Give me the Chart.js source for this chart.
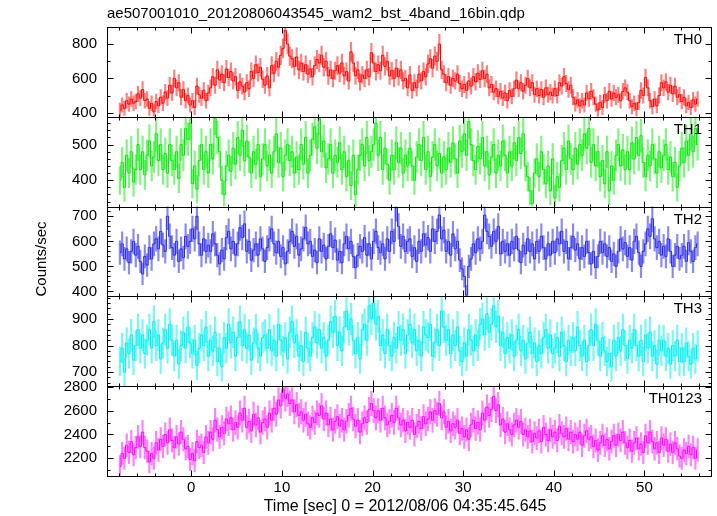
<!DOCTYPE html>
<html>
<head>
<meta charset="utf-8">
<script src="https://cdn.jsdelivr.net/npm/chart.js@4.4.1/dist/chart.umd.min.js"></script>
<style>
html, body { margin: 0; padding: 0; background: #fff; }
#lc { display: block; }
</style>
</head>
<body>
<canvas id="lc" width="717" height="516"></canvas>
<script>
// 0.25 s bins, first bin centre at -7.875 s
var binStart = -7.875;
var binSize = 0.25;

var bandNames = ['TH0', 'TH1', 'TH2', 'TH3', 'TH0123'];

var th0 = [
    415,445,425,470, 450,480,455,465,
    510,485,535,470, 480,425,455,405,
    465,440,490,455, 520,485,560,515,
    600,545,575,490, 535,470,500,445,
    470,430,555,505, 485,530,470,515,
    545,610,560,650, 590,625,575,655,
    605,640,585,610, 530,580,555,520,
    575,540,640,600, 680,635,665,595,
    560,615,545,675, 630,700,665,735,
    775,880,800,730, 715,670,725,650,
    690,640,680,625, 655,610,675,710,
    690,735,665,700, 615,650,600,645,
    675,630,690,615, 640,585,755,690,
    615,650,580,620, 600,650,610,750,
    690,640,680,645, 735,670,700,615,
    645,600,660,610, 650,585,600,545,
    620,530,575,545, 625,585,640,610,
    685,715,660,730, 700,800,650,625,
    575,610,560,600, 585,625,570,540,
    565,530,585,555, 610,580,630,595,
    645,600,625,545, 565,520,540,495,
    525,485,515,470, 530,495,540,590,
    540,575,525,560, 600,545,575,505,
    540,500,535,490, 545,505,520,500,
    540,500,575,555, 610,570,535,560,
    490,450,475,440, 470,445,515,480,
    525,490,450,415, 460,430,505,470,
    525,480,515,490, 505,470,525,545,
    520,470,435,455, 420,460,530,500,
    605,545,470,435, 480,440,500,575,
    545,580,520,560, 510,555,490,505,
    465,490,440,460, 430,475,450,480
];
var th1 = [
    400,450,380,470, 420,480,395,430,
    500,430,480,415, 470,510,440,465,
    530,455,500,430, 475,420,500,455,
    430,480,405,500, 470,545,515,560,
    390,440,375,455, 500,430,480,420,
    500,460,575,520, 480,400,360,440,
    470,425,490,445, 520,470,540,455,
    510,465,420,480, 445,500,410,460,
    500,440,470,420, 480,530,450,490,
    410,470,500,455, 480,420,465,430,
    500,445,520,420, 470,515,550,490,
    575,480,510,435, 460,500,420,470,
    450,505,430,480, 410,455,385,470,
    360,430,470,500, 440,520,455,480,
    500,560,470,520, 430,490,445,400,
    470,430,505,450, 490,420,470,440,
    490,440,400,465, 500,455,520,430,
    480,410,465,500, 440,475,420,465,
    430,490,450,505, 460,420,510,480,
    530,470,565,500, 455,430,495,460,
    520,440,480,415, 465,500,420,470,
    440,510,470,420, 480,440,505,455,
    520,475,530,440, 410,370,335,420,
    460,410,480,430, 390,440,370,460,
    350,410,380,455, 490,430,510,460,
    430,490,445,500, 470,530,490,545,
    450,500,440,480, 410,455,390,480,
    370,440,400,470, 500,440,485,430,
    480,430,505,460, 520,470,525,450,
    410,470,440,500, 460,420,480,435,
    470,500,430,465, 410,450,380,440,
    490,450,510,470, 530,480,545,500
];
var th2 = [
    555,590,530,570, 515,560,600,545,
    580,520,470,540, 505,575,530,590,
    610,570,640,585, 560,700,620,575,
    545,600,520,570, 535,620,580,600,
    650,610,700,590, 545,610,560,585,
    560,630,590,545, 510,565,530,615,
    640,570,600,545, 590,655,615,670,
    560,600,525,565, 590,545,610,570,
    520,575,610,650, 590,555,600,540,
    575,510,560,600, 640,580,620,545,
    570,610,655,590, 600,540,565,515,
    610,560,585,530, 580,630,575,605,
    525,560,515,590, 620,570,600,540,
    495,545,580,560, 615,545,590,530,
    600,640,575,555, 590,530,610,560,
    640,600,735,660, 580,620,560,600,
    610,540,575,520, 600,560,630,585,
    615,560,650,600, 640,705,610,645,
    560,600,545,630, 570,600,525,490,
    460,385,500,530, 590,555,610,570,
    600,705,640,620, 580,640,600,660,
    550,600,560,590, 545,600,570,620,
    565,515,585,550, 610,560,590,530,
    600,560,620,575, 530,590,545,600,
    555,610,590,640, 560,600,530,575,
    620,565,590,530, 575,540,600,555,
    510,560,495,540, 600,555,590,540,
    575,520,550,500, 560,610,570,595,
    540,575,525,600, 620,555,500,560,
    590,650,620,690, 610,575,600,545,
    580,540,610,560, 500,545,580,530,
    545,580,520,595, 560,520,575,590
];
var th3 = [
    740,790,700,810, 770,840,745,800,
    860,790,840,770, 820,860,790,890,
    800,840,750,810, 860,790,880,820,
    760,820,730,800, 850,790,870,810,
    770,820,725,790, 840,800,870,760,
    820,780,850,740, 790,720,830,790,
    880,810,850,760, 830,890,800,860,
    790,840,745,810, 860,790,760,830,
    840,790,860,780, 820,760,880,820,
    780,830,750,850, 890,810,840,760,
    800,740,850,790, 760,830,870,810,
    860,790,830,760, 820,890,850,910,
    800,850,780,870, 930,860,900,820,
    770,830,750,860, 880,820,950,900,
    960,880,910,800, 840,770,860,800,
    760,830,790,870, 820,860,770,840,
    880,810,860,780, 820,760,870,840,
    830,880,760,810, 860,800,930,870,
    820,860,770,840, 800,870,780,740,
    810,760,860,820, 780,840,800,880,
    900,840,920,850, 880,950,870,910,
    800,850,770,830, 790,840,760,820,
    860,780,820,750, 810,850,770,810,
    740,800,770,830, 860,790,840,770,
    790,830,760,850, 800,740,820,780,
    830,780,870,800, 760,820,740,800,
    860,800,880,820, 760,830,780,740,
    770,720,820,760, 830,780,860,800,
    750,820,790,860, 800,760,820,740,
    840,790,850,760, 800,730,820,780,
    820,760,790,730, 800,760,820,740,
    790,740,810,760, 730,790,750,800
];
var th0123 = [
    2130,2240,2200,2310, 2250,2340,2230,2290,
    2380,2300,2420,2290, 2260,2170,2240,2200,
    2330,2270,2360,2300, 2400,2330,2440,2350,
    2290,2380,2320,2420, 2360,2280,2300,2190,
    2240,2180,2340,2290, 2310,2250,2380,2330,
    2420,2360,2520,2440, 2380,2460,2410,2530,
    2490,2540,2440,2500, 2460,2580,2520,2620,
    2460,2510,2430,2570, 2480,2540,2420,2500,
    2530,2460,2580,2520, 2620,2570,2690,2640,
    2780,2700,2740,2660, 2690,2590,2650,2560,
    2590,2520,2570,2490, 2460,2540,2500,2580,
    2560,2640,2530,2580, 2480,2530,2440,2510,
    2550,2470,2520,2440, 2510,2560,2620,2530,
    2470,2520,2420,2490, 2540,2500,2610,2660,
    2600,2540,2600,2520, 2620,2540,2480,2510,
    2560,2500,2620,2540, 2480,2520,2430,2500,
    2460,2520,2400,2470, 2510,2450,2550,2490,
    2530,2590,2520,2600, 2570,2660,2540,2590,
    2460,2510,2430,2490, 2460,2520,2410,2450,
    2380,2440,2360,2480, 2520,2450,2500,2440,
    2580,2520,2630,2560, 2610,2720,2600,2650,
    2480,2530,2420,2490, 2440,2400,2480,2520,
    2460,2510,2400,2440, 2380,2430,2340,2410,
    2370,2430,2340,2460, 2400,2350,2440,2380,
    2420,2350,2470,2410, 2380,2450,2360,2420,
    2340,2400,2360,2420, 2310,2390,2430,2360,
    2380,2300,2350,2270, 2330,2390,2310,2360,
    2280,2340,2390,2310, 2400,2350,2420,2330,
    2290,2350,2260,2330, 2370,2280,2320,2250,
    2390,2330,2420,2340, 2280,2330,2250,2370,
    2310,2360,2260,2320, 2250,2330,2280,2220,
    2200,2270,2240,2300, 2230,2290,2200,2270
];

var bandData = [th0, th1, th2, th3, th0123];
var yRanges = [[376, 900], [326, 578], [380, 739], [647, 985], [2052, 2805]];
var yLabelTicks = [[400, 600, 800], [400, 500], [400, 500, 600, 700], [700, 800, 900], [2200, 2400, 2600, 2800]];
var yMinorStep = [100, 20, 20, 20, 100];
var xLabelTicks = [0, 10, 20, 30, 40, 50];

var lineColors = ['rgb(255,0,0)', 'rgb(0,235,0)', 'rgb(40,40,230)', 'rgb(0,240,240)', 'rgb(255,0,255)'];
var errColors = ['rgba(255,0,0,0.5)', 'rgba(0,235,0,0.5)', 'rgba(40,40,230,0.55)', 'rgba(0,240,240,0.55)', 'rgba(255,0,255,0.5)'];

var titleText = 'ae507001010_20120806043545_wam2_bst_4band_16bin.qdp';
var xTitle = 'Time [sec] 0 = 2012/08/06 04:35:45.645';
var yTitle = 'Counts/sec';

var FONT = '"Liberation Sans", Arial, Helvetica, sans-serif';
Chart.defaults.font.family = FONT;
Chart.defaults.font.size = 15;
Chart.defaults.color = '#000';

var times = th0.map(function(v, i) { return binStart + i * binSize; });

var datasets = [];
bandData.forEach(function(vals, k) {
    datasets.push({
        type: 'line',
        label: bandNames[k],
        yAxisID: 'y' + k,
        data: vals.map(function(v, i) { return {x: times[i], y: v}; }),
        borderColor: lineColors[k],
        borderWidth: 1,
        pointRadius: 0,
        stepped: 'middle',
        clip: false,
        order: 0
    });
    datasets.push({
        type: 'bar',
        label: bandNames[k] + ' err',
        yAxisID: 'y' + k,
        // poisson-like error bars for 0.25 s bins
        data: vals.map(function(v, i) {
            var e = 2 * Math.sqrt(v);
            return {x: times[i], y: [v - e, v + e]};
        }),
        backgroundColor: errColors[k],
        borderWidth: 0,
        barThickness: 1.5,
        grouped: false,
        clip: false,
        order: 1
    });
});

function plainTick(v) { return String(v); }

var scales = {
    x: {
        type: 'linear',
        min: -9.3,
        max: 57.35,
        offset: false,
        grid: { display: false, drawTicks: false },
        border: { display: false },
        ticks: { padding: 3, maxRotation: 0, callback: plainTick },
        afterBuildTicks: function(s) { s.ticks = xLabelTicks.map(function(v) { return {value: v}; }); },
        afterFit: function(s) { s.height = 40; }
    }
};
// stacked panels, last defined ends up on top
for (var k = bandNames.length - 1; k >= 0; k--) {
    (function(k) {
        scales['y' + k] = {
            type: 'linear',
            position: 'left',
            stack: 'panels',
            stackWeight: 1,
            min: yRanges[k][0],
            max: yRanges[k][1],
            grid: { display: false, drawTicks: false },
            border: { display: false },
            ticks: { padding: 10, autoSkip: false, callback: plainTick },
            afterBuildTicks: function(s) { s.ticks = yLabelTicks[k].map(function(v) { return {value: v}; }); },
            afterFit: function(s) { s.width = 107; }
        };
    })(k);
}

var qdpFrame = {
    id: 'qdpFrame',
    beforeDatasetDraw: function(chart, args) {
        var ys = chart.scales[args.meta.yAxisID];
        var a = chart.chartArea;
        chart.ctx.save();
        chart.ctx.beginPath();
        chart.ctx.rect(a.left, ys.top, a.right - a.left, ys.bottom - ys.top);
        chart.ctx.clip();
    },
    afterDatasetDraw: function(chart) {
        chart.ctx.restore();
    },
    afterDraw: function(chart) {
        var ctx = chart.ctx, a = chart.chartArea, xs = chart.scales.x;
        ctx.save();
        ctx.strokeStyle = '#000';
        ctx.lineWidth = 1;
        function seg(x1, y1, x2, y2) {
            ctx.beginPath(); ctx.moveTo(x1, y1); ctx.lineTo(x2, y2); ctx.stroke();
        }
        bandNames.forEach(function(name, k) {
            var ys = chart.scales['y' + k];
            var top = Math.round(ys.top) + 0.5, bot = Math.round(ys.bottom) + 0.5;
            var left = Math.round(a.left) + 0.5, right = Math.round(a.right) + 0.5;
            ctx.strokeRect(left, top, right - left, bot - top);
            for (var v = -8; v <= 56; v += 2) {
                var px = Math.round(xs.getPixelForValue(v)) + 0.5;
                var len = (v % 10 === 0) ? 6 : 3;
                seg(px, top, px, top + len);
                seg(px, bot, px, bot - len);
            }
            var r = yRanges[k], st = yMinorStep[k];
            for (var w = Math.ceil(r[0] / st) * st; w <= r[1]; w += st) {
                var py = Math.round(ys.getPixelForValue(w)) + 0.5;
                var ln = yLabelTicks[k].indexOf(w) >= 0 ? 6 : 3;
                seg(left, py, left + ln, py);
                seg(right, py, right - ln, py);
            }
            ctx.fillStyle = '#000';
            ctx.font = '15px ' + FONT;
            ctx.textAlign = 'right';
            ctx.textBaseline = 'alphabetic';
            ctx.fillText(name, 702, ys.top + 17);
        });
        ctx.font = '15px ' + FONT;
        ctx.textAlign = 'left';
        ctx.textBaseline = 'middle';
        ctx.fillText(titleText, a.left, 14);
        ctx.font = '16px ' + FONT;
        ctx.textAlign = 'center';
        ctx.fillText(xTitle, 405, 507);
        ctx.font = '15px ' + FONT;
        ctx.translate(42, 259);
        ctx.rotate(-Math.PI / 2);
        ctx.fillText(yTitle, 0, 0);
        ctx.restore();
    }
};

new Chart(document.getElementById('lc').getContext('2d'), {
    type: 'line',
    data: { datasets: datasets },
    options: {
        responsive: false,
        animation: false,
        devicePixelRatio: 1,
        layout: { padding: { left: 0, right: 6, top: 27, bottom: 0 } },
        plugins: { legend: { display: false }, tooltip: { enabled: false } },
        scales: scales
    },
    plugins: [qdpFrame]
});
</script>
</body>
</html>
